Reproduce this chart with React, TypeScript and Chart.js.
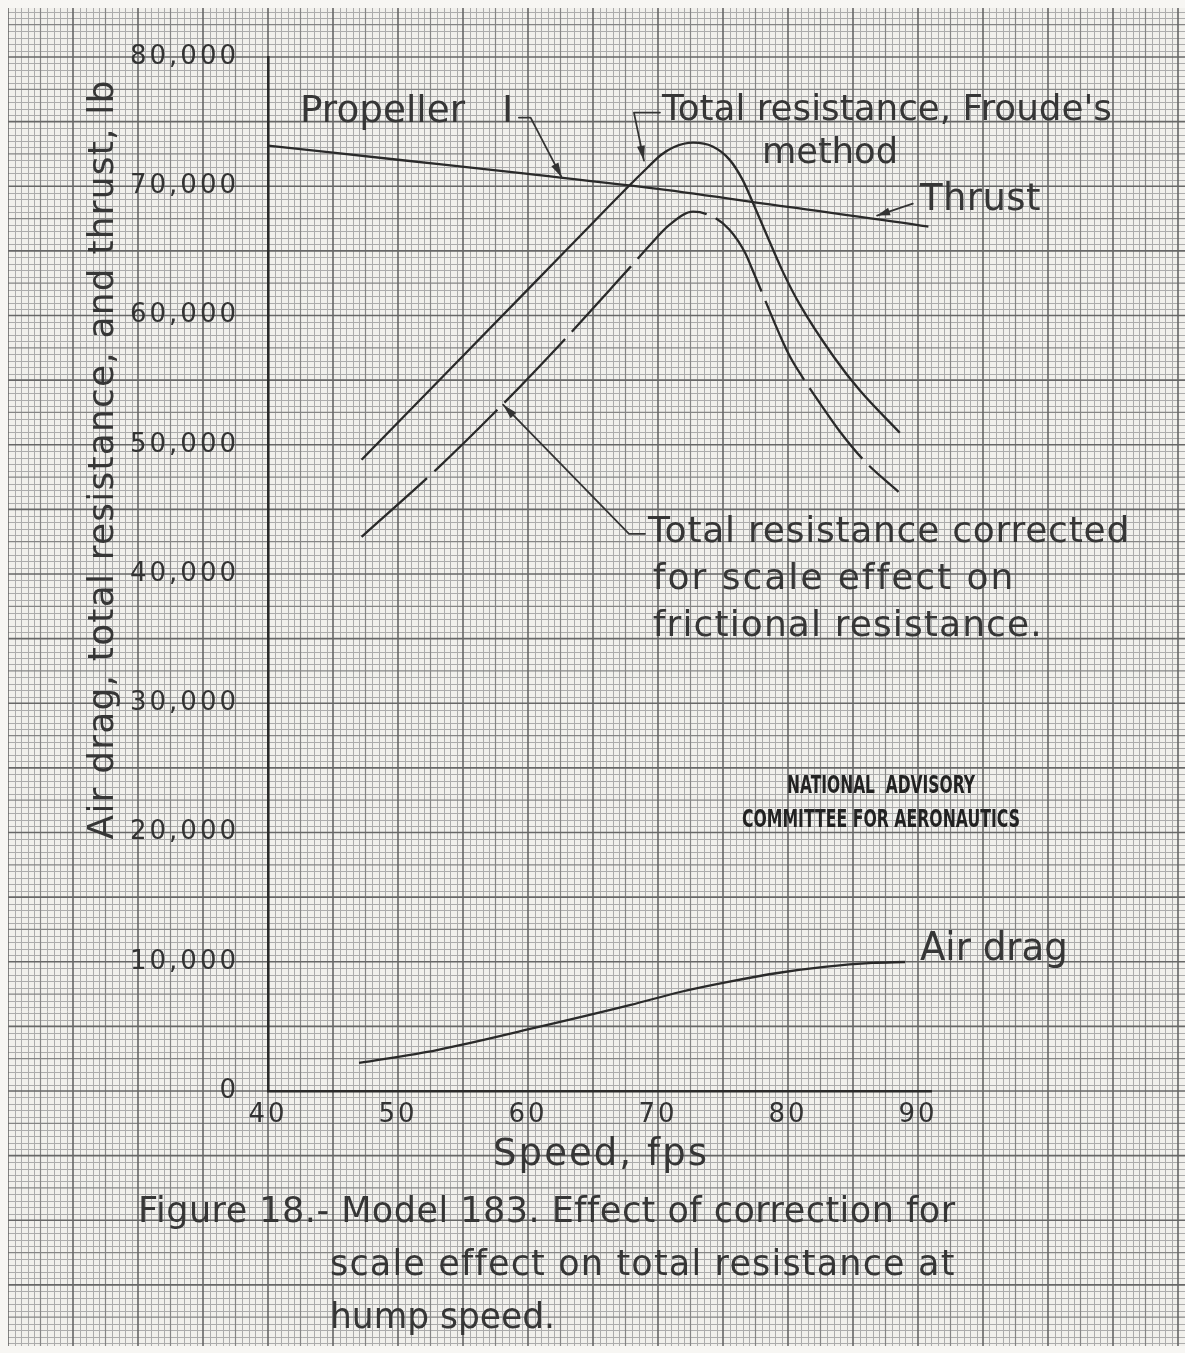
import React, { useEffect, useRef } from "react";
import { Chart, registerables } from "chart.js";

Chart.register(...registerables);

// Thrust of propeller I
const speedThrust = [40, 50, 60, 70, 80, 90, 90.8];
const thrustLb = [73150, 72050, 70950, 69800, 68400, 67000, 66870];

// Total resistance, Froude's method
const speedFroude = [47.2, 54.0, 60.9, 64.0, 67.7, 69.2, 70.2, 71.2, 72.7, 74.2, 75.5, 76.5, 77.3, 78.2, 79.6, 80.9, 83.5, 85.5, 88.6];
const resistFroude = [48840, 55840, 62950, 66150, 69960, 71450, 72400, 73020, 73370, 73070, 72060, 70510, 68730, 66615, 63395, 60860, 56830, 54230, 50930];

// Total resistance corrected for scale effect on frictional resistance
const speedCorrected = [47.2, 53.0, 58.1, 62.5, 66.3, 67.9, 69.4, 70.9, 72.7, 74.2, 75.5, 76.7, 77.2, 79.6, 80.2, 81.0, 82.5, 84.0, 86.0, 88.5];
const resistCorrected = [42880, 48140, 53170, 57800, 62000, 63780, 65480, 67030, 68030, 67650, 66640, 64860, 63700, 57970, 56730, 55400, 53150, 51010, 48620, 46360];

// Air drag
const speedAir = [47.0, 53.0, 60.5, 67.9, 71.7, 75.4, 79.2, 82.8, 86.5, 89.0];
const dragAir = [2170, 3170, 4880, 6660, 7660, 8440, 9130, 9600, 9910, 9980];

// Axis ranges and tick steps (the speed axis runs a little past its last figure)
const speedRange = [40, 91];
const speedStep = 10;
const lbRange = [0, 80000];
const lbStep = 10000;

const W = 1185;
const H = 1353;
const INK = "#2a2a2a";
const LETTER = "#363636";
const FONT = '"DejaVu Sans", "Liberation Sans", sans-serif';

type Pt = [number, number];

function pts(xs: number[], ys: number[]) {
  return xs.map((x, i) => ({ x, y: ys[i] }));
}

// Lettering: stretch a line of text to a given width by letter spacing,
// or squeeze it when it is too wide.
function letter(
  ctx: CanvasRenderingContext2D,
  text: string,
  x: number,
  y: number,
  size: number,
  width: number,
  align: CanvasTextAlign = "left",
  weight = "normal"
) {
  const c = ctx as any;
  ctx.font = `${weight} ${size}px ${FONT}`;
  c.letterSpacing = "0px";
  const w = ctx.measureText(text).width;
  ctx.textAlign = align;
  ctx.textBaseline = "alphabetic";
  if (width > w) {
    const sp = (width - w) / text.length;
    c.letterSpacing = `${sp}px`;
    const shift = align === "center" ? sp / 2 : align === "right" ? sp : 0;
    ctx.fillText(text, x + shift, y);
  } else {
    ctx.fillText(text, x, y, width);
  }
  c.letterSpacing = "0px";
}

function leader(ctx: CanvasRenderingContext2D, path: Pt[], head = 15, half = 4) {
  ctx.beginPath();
  ctx.moveTo(path[0][0], path[0][1]);
  for (let i = 1; i < path.length; i++) ctx.lineTo(path[i][0], path[i][1]);
  ctx.stroke();
  const [tx, ty] = path[path.length - 1];
  const [fx, fy] = path[path.length - 2];
  const a = Math.atan2(ty - fy, tx - fx);
  const bx = tx - head * Math.cos(a);
  const by = ty - head * Math.sin(a);
  ctx.beginPath();
  ctx.moveTo(tx, ty);
  ctx.lineTo(bx + half * Math.sin(a), by - half * Math.cos(a));
  ctx.lineTo(bx - half * Math.sin(a), by + half * Math.cos(a));
  ctx.closePath();
  ctx.fill();
}

// Graph paper: fine rules every 0.5 fps / 500 lb, heavier every 5th and 10th
const paperPlugin = {
  id: "paper",
  beforeDraw(chart: any) {
    const { ctx, scales } = chart;
    const xs = scales.x;
    const ys = scales.y;
    const L = 8;
    const T = 8;
    const R = W;
    const B = H - 7;
    ctx.save();
    ctx.fillStyle = "#f7f6f3";
    ctx.fillRect(0, 0, W, H);
    ctx.fillStyle = "#f1f0ec";
    ctx.fillRect(L, T, R - L, B - T);
    ctx.beginPath();
    ctx.rect(L, T, R - L, B - T);
    ctx.clip();

    const styles = [
      { color: "#acacac", width: 1 },
      { color: "#858585", width: 1.2 },
      { color: "#676767", width: 1.6 },
    ];
    const rank = (k: number) => (k % 10 === 0 ? 2 : k % 5 === 0 ? 1 : 0);
    for (let level = 0; level < 3; level++) {
      ctx.strokeStyle = styles[level].color;
      ctx.lineWidth = styles[level].width;
      ctx.beginPath();
      for (let k = -50; k <= 150; k++) {
        if (rank(Math.abs(k)) !== level) continue;
        const px = xs.getPixelForValue(speedRange[0] + k * 0.5);
        if (px < L - 2 || px > R + 2) continue;
        const p = level === 0 ? Math.round(px) + 0.5 : px;
        ctx.moveTo(p, T);
        ctx.lineTo(p, B);
      }
      for (let k = -50; k <= 180; k++) {
        if (rank(Math.abs(k)) !== level) continue;
        const py = ys.getPixelForValue(lbRange[0] + k * 500);
        if (py < T - 2 || py > B + 2) continue;
        const p = level === 0 ? Math.round(py) + 0.5 : py;
        ctx.moveTo(L, p);
        ctx.lineTo(R, p);
      }
      ctx.stroke();
    }
    ctx.restore();
    // tick lettering is spaced out like stencil figures
    (ctx as any).letterSpacing = "3px";
  },
  beforeDatasetsDraw(chart: any) {
    (chart.ctx as any).letterSpacing = "0px";
  },
};

// Labels, leaders, titles and caption
const letteringPlugin = {
  id: "lettering",
  afterDraw(chart: any) {
    const { ctx, scales, chartArea } = chart;
    const P = (x: number, y: number): Pt => [scales.x.getPixelForValue(x), scales.y.getPixelForValue(y)];
    ctx.save();
    ctx.fillStyle = LETTER;
    ctx.strokeStyle = "#333";
    ctx.lineWidth = 1.8;
    ctx.lineJoin = "round";
    ctx.lineCap = "round";

    // Propeller I
    let p = P(42.46, 75000);
    letter(ctx, "Propeller", p[0], p[1], 38, 165);
    p = P(58.0, 75000);
    letter(ctx, "I", p[0], p[1], 38, 15);
    ctx.fillStyle = "#333";
    leader(ctx, [P(59.3, 75310), P(60.2, 75310), P(62.6, 70670)]);

    // Total resistance, Froude's method
    ctx.fillStyle = LETTER;
    p = P(70.3, 75150);
    letter(ctx, "Total resistance, Froude's", p[0], p[1], 36, 450);
    p = P(78.0, 71830);
    letter(ctx, "method", p[0], p[1], 36, 136);
    ctx.fillStyle = "#333";
    leader(ctx, [P(70.15, 75700), P(68.15, 75700), P(68.92, 71980)]);

    // Thrust
    ctx.fillStyle = LETTER;
    p = P(90.15, 68190);
    letter(ctx, "Thrust", p[0], p[1], 37, 121);
    ctx.fillStyle = "#333";
    leader(ctx, [P(89.6, 68650), P(86.85, 67730)], 13, 4);

    // Corrected resistance
    ctx.fillStyle = LETTER;
    p = P(69.23, 42490);
    letter(ctx, "Total resistance corrected", p[0], p[1], 36, 482);
    p = P(69.6, 38850);
    letter(ctx, "for scale effect on", p[0], p[1], 36, 362);
    p = P(69.6, 35220);
    letter(ctx, "frictional resistance.", p[0], p[1], 36, 390);
    ctx.fillStyle = "#333";
    leader(ctx, [P(69.0, 43110), P(67.77, 43110), P(58.08, 53100)]);

    // Air drag
    ctx.fillStyle = LETTER;
    p = P(90.15, 10140);
    letter(ctx, "Air drag", p[0], p[1], 39, 148);

    // Stamp
    ctx.fillStyle = "#222";
    p = P(87.15, 23065);
    letter(ctx, "NATIONAL  ADVISORY", p[0], p[1], 24, 188, "center", "bold");
    p = P(87.15, 20430);
    letter(ctx, "COMMITTEE FOR AERONAUTICS", p[0], p[1], 24, 278, "center", "bold");

    // Axis titles
    const left = scales.x.getPixelForValue(speedRange[0]);
    const bottom = chartArea.bottom;
    ctx.fillStyle = LETTER;
    ctx.save();
    ctx.translate(left - 155, chartArea.top + 403);
    ctx.rotate(-Math.PI / 2);
    letter(ctx, "Air drag, total resistance, and thrust, lb", 0, 0, 36, 760, "center");
    ctx.restore();
    letter(ctx, "Speed, fps", left + 332, bottom + 74, 37, 216, "center");

    // Caption
    letter(ctx, "Figure 18.- Model 183. Effect of correction for", left - 130, bottom + 131, 35, 817);
    letter(ctx, "scale effect on total resistance at", left + 62, bottom + 184, 35, 625);
    letter(ctx, "hump speed.", left + 62, bottom + 237, 35, 225);
    ctx.restore();
  },
};

export default function App() {
  const ref = useRef<HTMLCanvasElement | null>(null);

  useEffect(() => {
    document.body.style.margin = "0";
    const canvas = ref.current;
    if (!canvas) return;
    const line = {
      borderColor: INK,
      borderWidth: 2.3,
      pointRadius: 0,
      fill: false,
      cubicInterpolationMode: "monotone" as const,
      clip: false as any,
    };
    const chart = new Chart(canvas, {
      type: "line",
      data: {
        datasets: [
          { ...line, label: "Thrust", data: pts(speedThrust, thrustLb) },
          { ...line, label: "Total resistance, Froude's method", data: pts(speedFroude, resistFroude) },
          {
            ...line,
            label: "Total resistance corrected for scale effect on frictional resistance",
            data: pts(speedCorrected, resistCorrected),
            borderDash: [88, 10],
          },
          { ...line, label: "Air drag", data: pts(speedAir, dragAir) },
        ],
      },
      options: {
        responsive: false,
        animation: false,
        devicePixelRatio: 1,
        layout: { padding: { left: 0, top: 57, right: 254, bottom: 0 } },
        plugins: { legend: { display: false }, tooltip: { enabled: false }, title: { display: false } },
        scales: {
          x: {
            type: "linear",
            min: speedRange[0],
            max: speedRange[1],
            afterFit: (s: any) => {
              s.height = 262;
            },
            ticks: {
              stepSize: speedStep,
              includeBounds: false,
              maxRotation: 0,
              padding: 9,
              color: "#333",
              font: { family: FONT, size: 26 },
            },
            grid: { display: false, drawTicks: false },
            border: { display: true, color: INK, width: 2.6 },
          },
          y: {
            type: "linear",
            min: lbRange[0],
            max: lbRange[1],
            afterFit: (s: any) => {
              s.width = 268;
            },
            ticks: {
              stepSize: lbStep,
              padding: 29,
              color: "#333",
              font: { family: FONT, size: 26 },
              callback: (v: any) => Number(v).toLocaleString("en-US"),
            },
            grid: { display: false, drawTicks: false },
            border: { display: true, color: INK, width: 2.6 },
          },
        },
      },
      plugins: [paperPlugin, letteringPlugin],
    });
    return () => chart.destroy();
  }, []);

  return <canvas ref={ref} width={W} height={H} style={{ display: "block" }} />;
}
